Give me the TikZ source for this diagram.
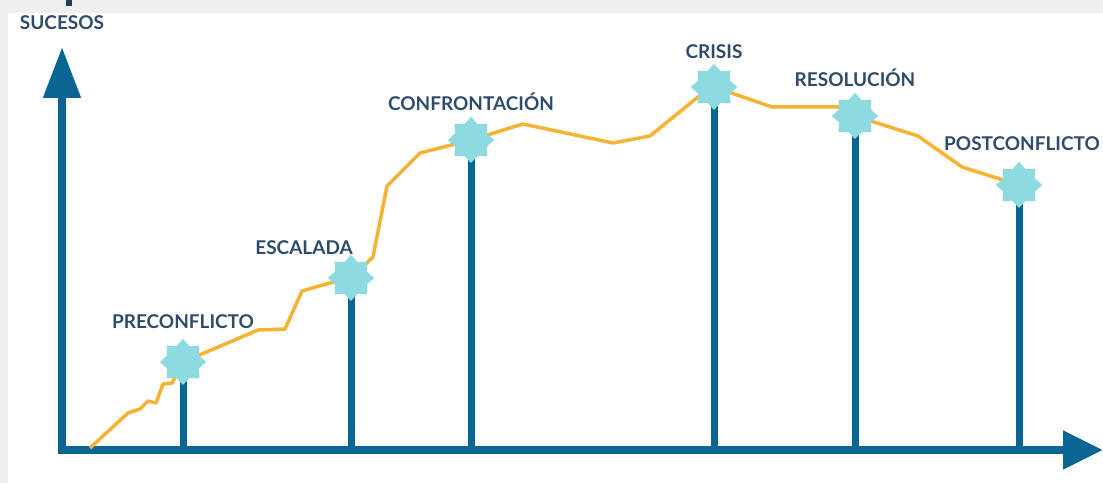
\documentclass[tikz,border=0pt]{standalone}
\usepackage{fontspec}
\setmainfont{Lato}
\usetikzlibrary{shapes.geometric,arrows.meta}
\definecolor{axisblue}{HTML}{0B6592}
\definecolor{labelblue}{HTML}{2F4B6B}
\definecolor{starcyan}{HTML}{8DDBE0}
\definecolor{trendyellow}{HTML}{F6B235}
\definecolor{panelgrey}{HTML}{EFEFEF}
\tikzset{
  axis/.style={draw=axisblue,line width=0.16cm},
  stem/.style={draw=axisblue,line width=0.14cm},
  trend/.style={draw=trendyellow,line width=0.07cm,line join=round},
  hito/.style={shape=star,star points=8,star point ratio=1.35,minimum size=0.92cm,inner sep=0pt,fill=starcyan},
  etiqueta/.style={text=labelblue,font=\bfseries\fontsize{10.8}{12}\selectfont,inner sep=0pt}
}
\begin{document}
\begin{tikzpicture}[x=0.02cm,y=-0.02cm]
    \useasboundingbox (0,0) rectangle (1103,483);
    \fill [panelgrey] (0,0) rectangle (1103,483);
    \fill [white] (8,13) rectangle (1103,483);
    \fill [labelblue!80!black] (66,0) rectangle (72,6);

    % ejes
    \coordinate (o) at (62,450);
    \coordinate (ytop) at (62,47);
    \coordinate (xend) at (1103,450);
    \draw[axis,-{Triangle[length=1.02cm,width=0.72cm]}] (62,454) -- (ytop);
    \draw[axis,-{Triangle[length=0.8cm,width=0.74cm]}] (58,450) -- (xend);
    \node[etiqueta] (suc) at (62,23) {SUCESOS};

    % hitos
    \node[hito] (pre) at (183,362) {};
    \node[hito] (esc) at (351,278) {};
    \node[hito] (conf) at (471,140) {};
    \node[hito] (cri) at (714,87) {};
    \node[hito] (res) at (855,116) {};
    \node[hito] (post) at (1019,185) {};

    \foreach \h in {pre,esc,conf,cri,res,post}
        \draw[stem] (\h.center) -- (\h.center |- o);

    \draw[trend] (90,448) -- (128,413) -- (140,409) -- (148,401) -- (156,403) -- (163,384)
        -- (172,383) -- (pre.center) -- (258,330) -- (285,329) -- (302,291) -- (330,283)
        -- (esc.center) -- (373,257) -- (387,186) -- (420,153) -- (conf.center)
        -- (523,124) -- (613,143) -- (650,136) -- (698,97) -- (cri.center)
        -- (772,107) -- (838,107) -- (res.center) -- (918,136) -- (962,167) -- (post.center);

    \foreach \h in {pre,esc,conf,cri,res,post}
        \node[hito] at (\h) {};

    \node[etiqueta] (lpre) at (183,322) {PRECONFLICTO};
    \node[etiqueta] (lesc) at (304,248) {ESCALADA};
    \node[etiqueta] (lconf) at (471,102) {CONFRONTACIÓN};
    \node[etiqueta] (lcri) at (714,52) {CRISIS};
    \node[etiqueta] (lres) at (855,78) {RESOLUCIÓN};
    \node[etiqueta] (lpost) at (1022,144) {POSTCONFLICTO};
\end{tikzpicture}
\end{document}
